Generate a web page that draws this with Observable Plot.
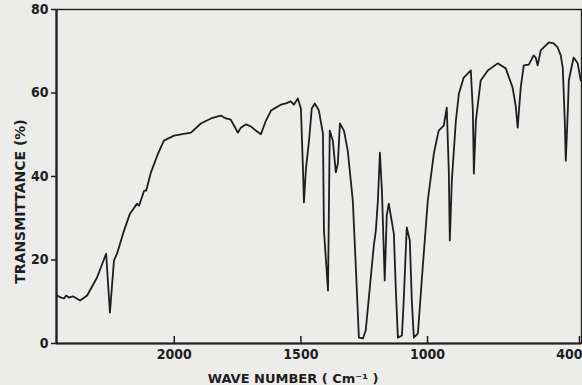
<!DOCTYPE html>
<html>
<head>
<meta charset="utf-8">
<script src="https://cdn.jsdelivr.net/npm/d3@7"></script>
<script src="https://cdn.jsdelivr.net/npm/@observablehq/plot@0.6"></script>
<style>
  html, body { margin: 0; padding: 0; background: #ececea; }
  #chart svg { display: block; }
</style>
</head>
<body>
<div id="chart"></div>
<script>
// IR spectrum (wave number in cm^-1, transmittance in %)
const wavenumber = [
  2463, 2447, 2435, 2427, 2416, 2400, 2372, 2344, 2305, 2269, 2254, 2238, 2226, 2198, 2175, 2147, 2139, 2119, 2111, 2092,
  2064, 2041, 2001, 1934, 1895, 1855, 1828, 1816, 1796, 1777, 1764, 1749, 1737, 1717, 1698, 1678, 1658, 1638, 1618, 1599,
  1579, 1559, 1540, 1528, 1512, 1500, 1492, 1488, 1480, 1468, 1457, 1445, 1429, 1413, 1409, 1401, 1393, 1386, 1374, 1362,
  1354, 1346, 1330, 1315, 1295, 1283, 1271, 1255, 1244, 1224, 1212, 1204, 1196, 1188, 1180, 1169, 1161, 1153, 1133, 1125,
  1117, 1101, 1094, 1082, 1070, 1062, 1054, 1038, 1019, 999, 975, 956, 944, 936, 924, 916, 912, 904, 888, 876,
  857, 829, 821, 817, 809, 790, 762, 723, 691, 664, 652, 644, 632, 620, 600, 581, 573, 565, 553, 533,
  521, 502, 486, 474, 466, 458, 454, 446, 442, 434, 423, 407, 395
];
const transmittance = [
  11.5, 11.0, 10.8, 11.5, 11.0, 11.3, 10.3, 11.5, 15.8, 21.5, 7.4, 19.9, 21.5, 27.1, 31.1, 33.5, 33.0, 36.6, 36.6, 41.0,
  45.5, 48.6, 49.8, 50.5, 52.7, 53.9, 54.4, 54.6, 53.9, 53.6, 52.2, 50.5, 51.7, 52.5, 52.0, 51.0, 50.1, 53.4, 55.8, 56.5,
  57.2, 57.5, 58.0, 57.2, 58.7, 56.3, 42.2, 33.8, 41.9, 48.5, 56.3, 57.5, 55.8, 50.3, 27.1, 19.9, 12.7, 51.0, 48.6, 41.0,
  43.1, 52.7, 51.0, 46.2, 34.2, 18.2, 1.4, 1.2, 3.1, 15.8, 23.5, 27.1, 34.2, 45.7, 36.6, 15.1, 30.7, 33.5, 26.3, 12.7,
  1.4, 1.9, 10.3, 27.8, 24.7, 10.3, 1.4, 2.4, 18.2, 34.2, 45.5, 51.0, 51.7, 52.2, 56.5, 41.4, 24.7, 39.0, 53.4, 59.9,
  63.7, 65.4, 55.8, 40.7, 53.4, 63.0, 65.4, 67.1, 65.9, 61.3, 57.0, 51.7, 61.3, 66.6, 66.8, 69.0, 68.5, 66.6, 70.2, 71.4,
  72.1, 71.9, 70.9, 69.0, 66.1, 53.4, 43.8, 55.8, 63.0, 65.4, 68.5, 67.1, 63.0
];
const xTicks = [2000, 1500, 1000, 400];
const yTicks = [0, 20, 40, 60, 80];
const xLabel = "WAVE NUMBER ( Cm\u207B\u00B9 )";
const yLabel = "TRANSMITTANCE (%)";

const spectrum = wavenumber.map((w, i) => ({w, t: transmittance[i]}));

const W = 582, H = 385, mt = 9, mb = 42, ml = 56, mr = 1;
const ink = "#1e1e1e";
const tickFont = "'DejaVu Sans Condensed', 'DejaVu Sans', sans-serif";

const chart = Plot.plot({
  width: W,
  height: H,
  marginTop: mt,
  marginBottom: mb,
  marginLeft: ml,
  marginRight: mr,
  style: {background: "#ececea", color: ink, fontFamily: "'DejaVu Sans', sans-serif", fontWeight: "bold", fontSize: "13px"},
  x: {domain: [2465, 392]},
  y: {domain: [0, 80]},
  marks: [
    Plot.axisY({ticks: yTicks, tickSize: 5, tickPadding: 3, label: null, strokeWidth: 1.5, fontSize: 14, fontFamily: tickFont, tickFormat: d => String(d)}),
    Plot.axisX({ticks: xTicks.slice(0, 3), tickSize: 0, tickPadding: 6, label: null, fontSize: 14, fontFamily: tickFont, tickFormat: d => String(d)}),
    Plot.axisX({ticks: xTicks.slice(3), tickSize: 0, tickPadding: 6, label: null, fontSize: 14, fontFamily: tickFont, tickFormat: d => String(d), textAnchor: "end", dx: 3}),
    Plot.ruleX(xTicks, {x: d => d, insetTop: H - mt - mb - 7, stroke: ink, strokeWidth: 1.5}),
    Plot.line(spectrum, {x: "w", y: "t", stroke: ink, strokeWidth: 1.8, strokeLinejoin: "round"}),
    Plot.ruleY([0], {stroke: ink, strokeWidth: 2.2}),
    Plot.ruleX([2465], {stroke: ink, strokeWidth: 2.2}),
    Plot.frame({stroke: ink, strokeWidth: 1.4}),
    Plot.text([yLabel], {frameAnchor: "left", text: d => d, rotate: -90, textAnchor: "middle", lineAnchor: "middle", dx: -36, dy: 25, fontSize: 14, fontWeight: "bold", fill: ink}),
    Plot.text([xLabel], {frameAnchor: "bottom", text: d => d, textAnchor: "middle", lineAnchor: "middle", dx: -26, dy: 35, fontSize: 13, fontWeight: "bold", fill: ink})
  ]
});
document.getElementById("chart").append(chart);
</script>
</body>
</html>
